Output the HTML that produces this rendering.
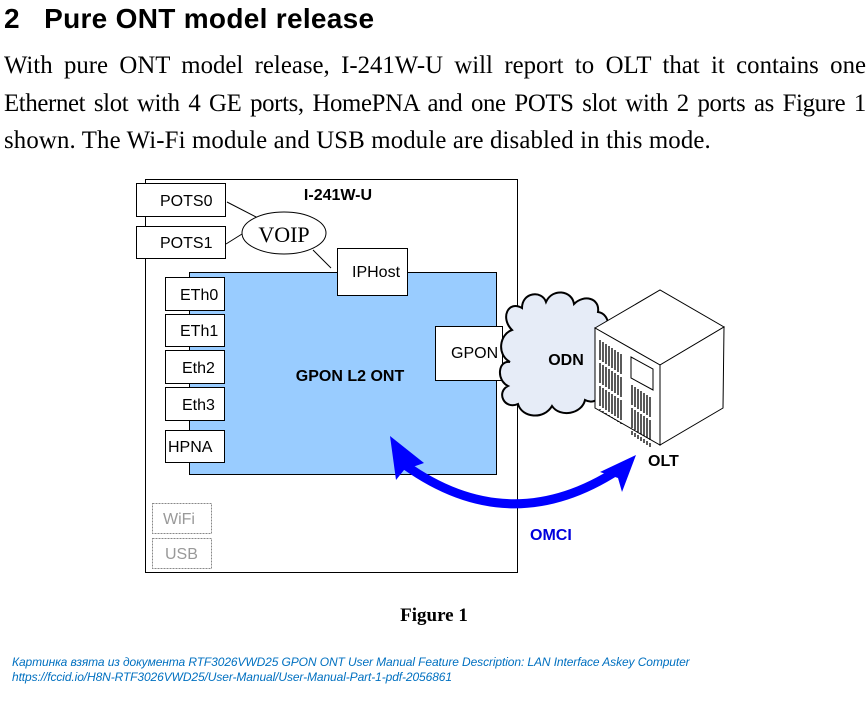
<!DOCTYPE html>
<html><head><meta charset="utf-8"><style>
body{margin:0;width:868px;height:718px;background:#fff;overflow:hidden;position:relative}
.h{position:absolute;left:4px;top:3px;font:bold 28px "Liberation Sans",sans-serif;letter-spacing:0.3px}
.l{position:absolute;left:4px;width:862px;font:24.8px/37.5px "Liberation Serif",serif;text-align:justify;text-align-last:justify;white-space:nowrap}
.cap{position:absolute;left:12px;top:655px;font:italic 12px/15px "Liberation Sans","DejaVu Sans",sans-serif;color:#0070c0;letter-spacing:-0.1px}
</style></head><body>
<div class="h">2&nbsp;&nbsp;&nbsp;Pure ONT model release</div>
<div class="l" style="top:47px">With pure ONT model release, I-241W-U will report to OLT that it contains one</div>
<div class="l" style="top:84.5px;letter-spacing:-0.35px;word-spacing:-1px">Ethernet slot with 4 GE ports, HomePNA and one POTS slot with 2 ports as Figure 1</div>
<div class="l" style="top:122px;text-align-last:left;letter-spacing:0.15px">shown. The Wi-Fi module and USB module are disabled in this mode.</div>
<svg width="868" height="718" style="position:absolute;left:0;top:0" font-family="Liberation Sans, DejaVu Sans, sans-serif">
<rect x="145.5" y="179.5" width="372" height="393" fill="#fff" stroke="#000"/>
<text x="338" y="200" font-weight="bold" font-size="16" text-anchor="middle">I-241W-U</text>
<rect x="189.5" y="272.5" width="307" height="202" fill="#99ccff" stroke="#000"/>
<text x="350" y="381" font-weight="bold" font-size="16" text-anchor="middle">GPON L2 ONT</text>
<g stroke="#000" fill="#fff" font-size="16">
<line x1="227" y1="202" x2="258" y2="218"/>
<line x1="226" y1="244" x2="242" y2="234"/>
<line x1="313" y1="250" x2="331" y2="268"/>
<rect x="136.5" y="183.5" width="89" height="33"/>
<rect x="136.5" y="226.5" width="89" height="32"/>
<ellipse cx="284" cy="233" rx="42" ry="21"/>
<rect x="337.5" y="248.5" width="70" height="47"/>
<rect x="165.5" y="277.5" width="59" height="33"/>
<rect x="165.5" y="314.5" width="59" height="32"/>
<rect x="165.5" y="350.5" width="59" height="33"/>
<rect x="165.5" y="387.5" width="59" height="33"/>
<rect x="165.5" y="430.5" width="59" height="32"/>
<rect x="435.5" y="326.5" width="67" height="54"/>
</g>
<g font-size="16" fill="#000">
<text x="160" y="206">POTS0</text>
<text x="160" y="248">POTS1</text>
<text x="352" y="277">IPHost</text>
<text x="180" y="300">ETh0</text>
<text x="180" y="336">ETh1</text>
<text x="182" y="373">Eth2</text>
<text x="182" y="410">Eth3</text>
<text x="168" y="452">HPNA</text>
<text x="451" y="358">GPON</text>
</g>
<text x="284" y="242" font-family="Liberation Serif,serif" font-size="22" text-anchor="middle">VOIP</text>
<g stroke="#888" stroke-dasharray="2,1" fill="#fff">
<rect x="152.5" y="503.5" width="59" height="30"/>
<rect x="152.5" y="538.5" width="59" height="30"/>
</g>
<text x="163" y="524" font-size="16" fill="#999">WiFi</text>
<text x="165" y="559" font-size="16" fill="#999">USB</text>
<path d="M512,330 C500,318 508,300 522,308 C522,292 542,290 546,302 C552,288 572,290 574,304 C584,294 600,298 598,312 C612,314 610,336 602,340 C614,350 608,372 598,372 C610,384 600,408 585,400 C582,414 560,418 552,406 C544,420 522,418 518,404 C504,410 496,392 508,386 C496,380 498,360 510,362 C496,354 500,334 512,330 Z" fill="#e6ecf7" stroke="#000" stroke-width="2"/>
<text x="566" y="365" font-weight="bold" font-size="16" text-anchor="middle">ODN</text>
<g stroke="#000" fill="#fff" stroke-width="1">
<polygon points="595,328 660,290 724,327 660,365"/>
<polygon points="660,365 724,327 723,408 660,445"/>
<polygon points="595,328 660,365 660,445 595,408"/>
<polygon points="631,357 653,369 653,390 631,378"/>
</g>
<g stroke="#000" stroke-width="1.3">
<path d="M600,340v70M603,342v70M606,344v70M609,346v70M612,348v70M615,350v70M618,352v70M621,354v70" stroke-dasharray="20,3"/>
<path d="M632,385v50M635,387v50M638,389v50M641,391v50M644,393v50M647,395v50M650,397v50" stroke-dasharray="20,3"/>
</g>
<text x="648" y="466" font-weight="bold" font-size="16">OLT</text>
<path d="M405,465 Q510,540 618,470" fill="none" stroke="#0000ff" stroke-width="9"/>
<polygon points="390,436 424,463 404,470 396,480" fill="#0000ff"/>
<polygon points="636,455 600,472 618,478 622,492" fill="#0000ff"/>
<text x="530" y="540" font-weight="bold" font-size="16" fill="#0000dd">OMCI</text>
<text x="434" y="621" font-family="Liberation Serif,serif" font-weight="bold" font-size="19" text-anchor="middle">Figure 1</text>
</svg>
<div class="cap">Картинка взята из документа RTF3026VWD25 GPON ONT User Manual Feature Description: LAN Interface Askey Computer<br>https://fccid.io/H8N-RTF3026VWD25/User-Manual/User-Manual-Part-1-pdf-2056861</div>
</body></html>
